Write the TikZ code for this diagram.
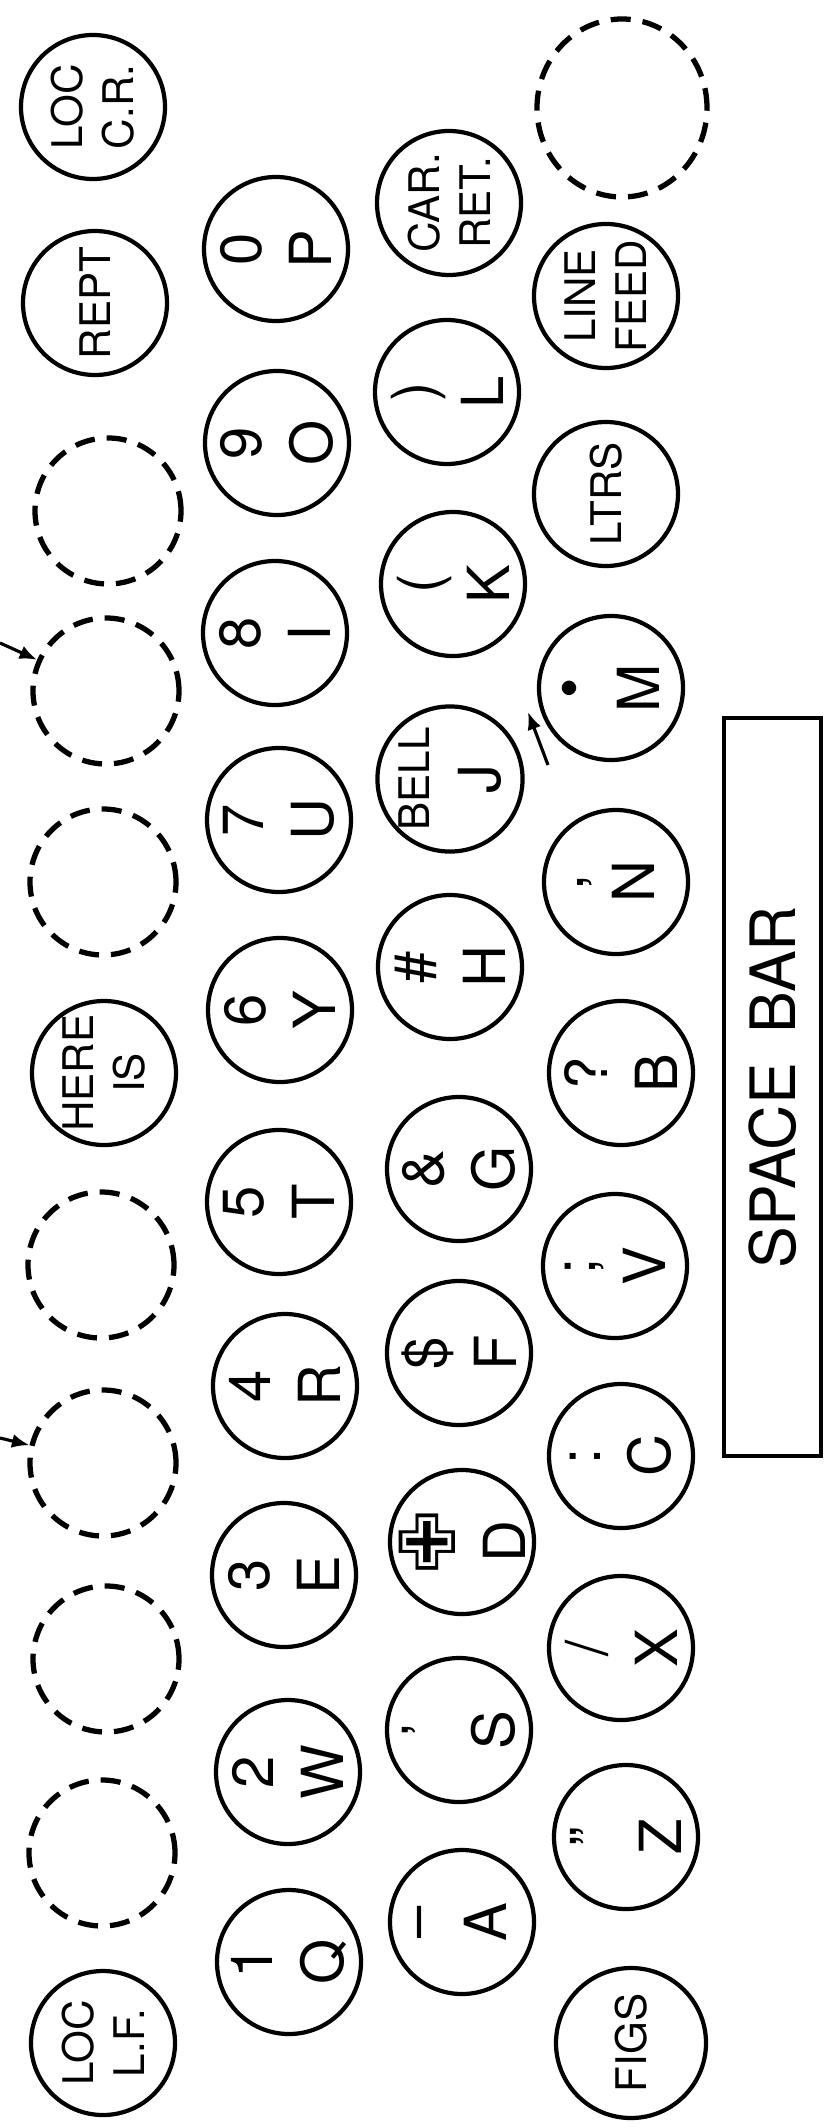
\documentclass[tikz,border=0pt]{standalone}
\usepackage{fontspec}
\setmainfont{TeX Gyre Heros}
\newfontfamily\crossfont{DejaVu Sans}
\usetikzlibrary{arrows.meta,shapes.geometric}
\newcommand{\keyfont}{\fontsize{16.5}{20}\selectfont}
\newcommand{\ctlfont}{\fontsize{12}{14.5}\selectfont}

\begin{document}
\begin{tikzpicture}[
    keycap/.style={circle, draw, line width=1.2pt, minimum size=1.44cm, inner sep=0pt,
                   rotate=90, align=center, font=\keyfont},
    ctlkey/.style={keycap, font=\ctlfont},
    blank/.style={circle, draw, line width=1.5pt, minimum size=1.46cm,
                  dash pattern=on 0.2cm off 0.12cm},
    lead/.style={line width=0.9pt, -{Latex[length=5pt,width=4pt]}},
    bar/.style={rectangle, draw, line width=1.2pt, rotate=90, minimum width=7.38cm,
                minimum height=0.97cm, font=\fontsize{17.8}{20}\selectfont}
]
\useasboundingbox (0,0) rectangle (8.29,-21.28);

% --- Top row: local functions and spare keys ---
\node[ctlkey] (loccr)  at (0.93,-1.07)  {LOC\\C.R.};
\node[ctlkey] (rept)   at (0.95,-3.03)  {REPT};
\node[blank]  (b1)     at (1.08,-5.11)  {};
\node[blank]  (b2)     at (1.06,-6.91)  {};
\node[blank]  (b3)     at (1.03,-8.82)  {};
\node[ctlkey] (hereis) at (1.04,-10.73) {HERE\\IS};
\node[blank]  (b4)     at (1.01,-12.65) {};
\node[blank]  (b5)     at (1.03,-14.63) {};
\node[blank]  (b6)     at (1.06,-16.59) {};
\node[blank]  (b7)     at (1.02,-18.53) {};
\node[ctlkey] (loclf)  at (1.03,-20.43) {LOC\\L.F.};

% --- Second row: figures over Q ... P ---
\node[keycap] (p) at (2.76,-2.49)  {0\\P};
\node[keycap] (o) at (2.77,-4.43)  {9\\O};
\node[keycap] (i) at (2.75,-6.33)  {8\\I};
\node[keycap] (u) at (2.79,-8.20)  {7\\U};
\node[keycap] (y) at (2.80,-10.10) {6\\Y};
\node[keycap] (t) at (2.79,-12.02) {5\\T};
\node[keycap] (r) at (2.85,-13.86) {4\\R};
\node[keycap] (e) at (2.84,-15.75) {3\\E};
\node[keycap] (w) at (2.88,-17.72) {2\\W};
\node[keycap] (q) at (2.89,-19.62) {1\\Q};

% --- Third row: A ... L and carriage return ---
\node[ctlkey] (carret) at (4.49,-2.03) {CAR.\\RET.};
\node[keycap] (l) at (4.47,-3.92)  {)\\L};
\node[keycap] (k) at (4.53,-5.84)  {(\\K};
\node[keycap] (j) at (4.50,-7.79)  {{\ctlfont BELL}\\J};
\node[keycap] (h) at (4.50,-9.67)  {\#\\H};
\node[keycap] (g) at (4.59,-11.69) {\&\\G};
\node[keycap] (f) at (4.59,-13.53) {\$\\F};
\node[keycap] (d) at (4.62,-15.42) {{\crossfont\fontsize{22}{20}\selectfont ✙}\\D};
\node[keycap] (s) at (4.59,-17.30) {'\\S};
\node[keycap] (a) at (4.62,-19.22) {–\\A};

% --- Bottom row: shifts, line feed, Z ... M ---
\node[ellipse, draw, line width=1.5pt, minimum width=1.70cm, minimum height=1.78cm,
      dash pattern=on 0.2cm off 0.12cm] (bigblank) at (6.22,-1.08) {};
\node[ctlkey] (linefeed) at (6.06,-2.96) {LINE\\FEED};
\node[ctlkey] (ltrs)     at (6.06,-4.94) {LTRS};
\node[keycap] (m)    at (6.11,-6.88)  {•\\M};
\node[keycap] (n)    at (6.16,-8.82)  {,\\N};
\node[keycap] (bkey) at (6.21,-10.73) {?\\B};
\node[keycap] (v)    at (6.15,-12.66) {;\\V};
\node[keycap] (c)    at (6.21,-14.56) {:\\C};
\node[keycap] (x)    at (6.21,-16.48) {/\\X};
\node[keycap] (z)    at (6.26,-18.37) {"\\Z};
\node[ctlkey, minimum size=1.50cm] (figs) at (6.31,-20.43) {FIGS};

% --- Space bar ---
\node[bar] (spacebar) at (7.725,-10.87) {SPACE\hspace{0.3cm}BAR};

% --- Leader arrows ---
\coordinate (lead1) at (0,-6.43);
\coordinate (lead2) at (0,-14.38);
\coordinate (lead3a) at (5.48,-7.65);
\coordinate (lead3b) at (5.28,-7.12);
\draw[lead] (lead1) -- (b2);
\draw[lead] (lead2) -- (b5);
\draw[lead] (lead3a) -- (lead3b);
\end{tikzpicture}
\end{document}
